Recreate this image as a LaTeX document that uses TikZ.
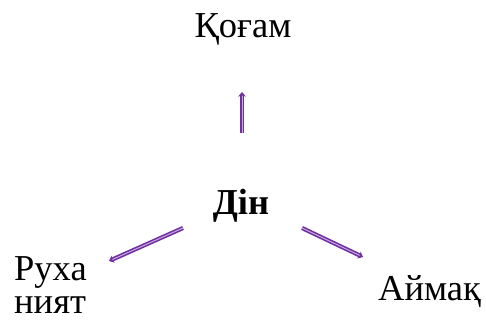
\documentclass[tikz,border=0pt]{standalone}
\usepackage{fontspec}
\setmainfont{Liberation Serif}
\usetikzlibrary{arrows.meta}
\definecolor{arrpurple}{RGB}{112,48,160}
\definecolor{arrlight}{RGB}{200,168,228}
\tikzset{
  lbl/.style={font=\fontsize{36.5}{40}\selectfont, inner sep=0pt, anchor=base},
  conn/.style={draw=arrpurple, line width=1.6pt, double=arrlight, double distance=1pt,
    -{Stealth[length=4.5pt,width=7.5pt,inset=1pt]}}
}
\begin{document}
\begin{tikzpicture}[x=1pt,y=-1pt]
\useasboundingbox (0,0) rectangle (486,322);
\node[lbl] (qogam) at (243,37) {Қоғам};
\node[lbl,font=\fontsize{36.5}{40}\selectfont\bfseries] (din) at (241,214) {Дін};
\node[lbl,anchor=base west] (rux) at (14,280) {Руха};
\node[lbl,anchor=base west] (niyat) at (14,313) {ният};
\node[lbl,anchor=base west] (aymaq) at (378,300) {Аймақ};
\coordinate (s1) at (242,133);
\coordinate (e1) at (242,92);
\coordinate (s2) at (183,228);
\coordinate (e2) at (109,261);
\coordinate (s3) at (302,228);
\coordinate (e3) at (363,257);
\draw[conn] (s1) -- (e1);
\draw[conn] (s2) -- (e2);
\draw[conn] (s3) -- (e3);
\end{tikzpicture}
\end{document}
